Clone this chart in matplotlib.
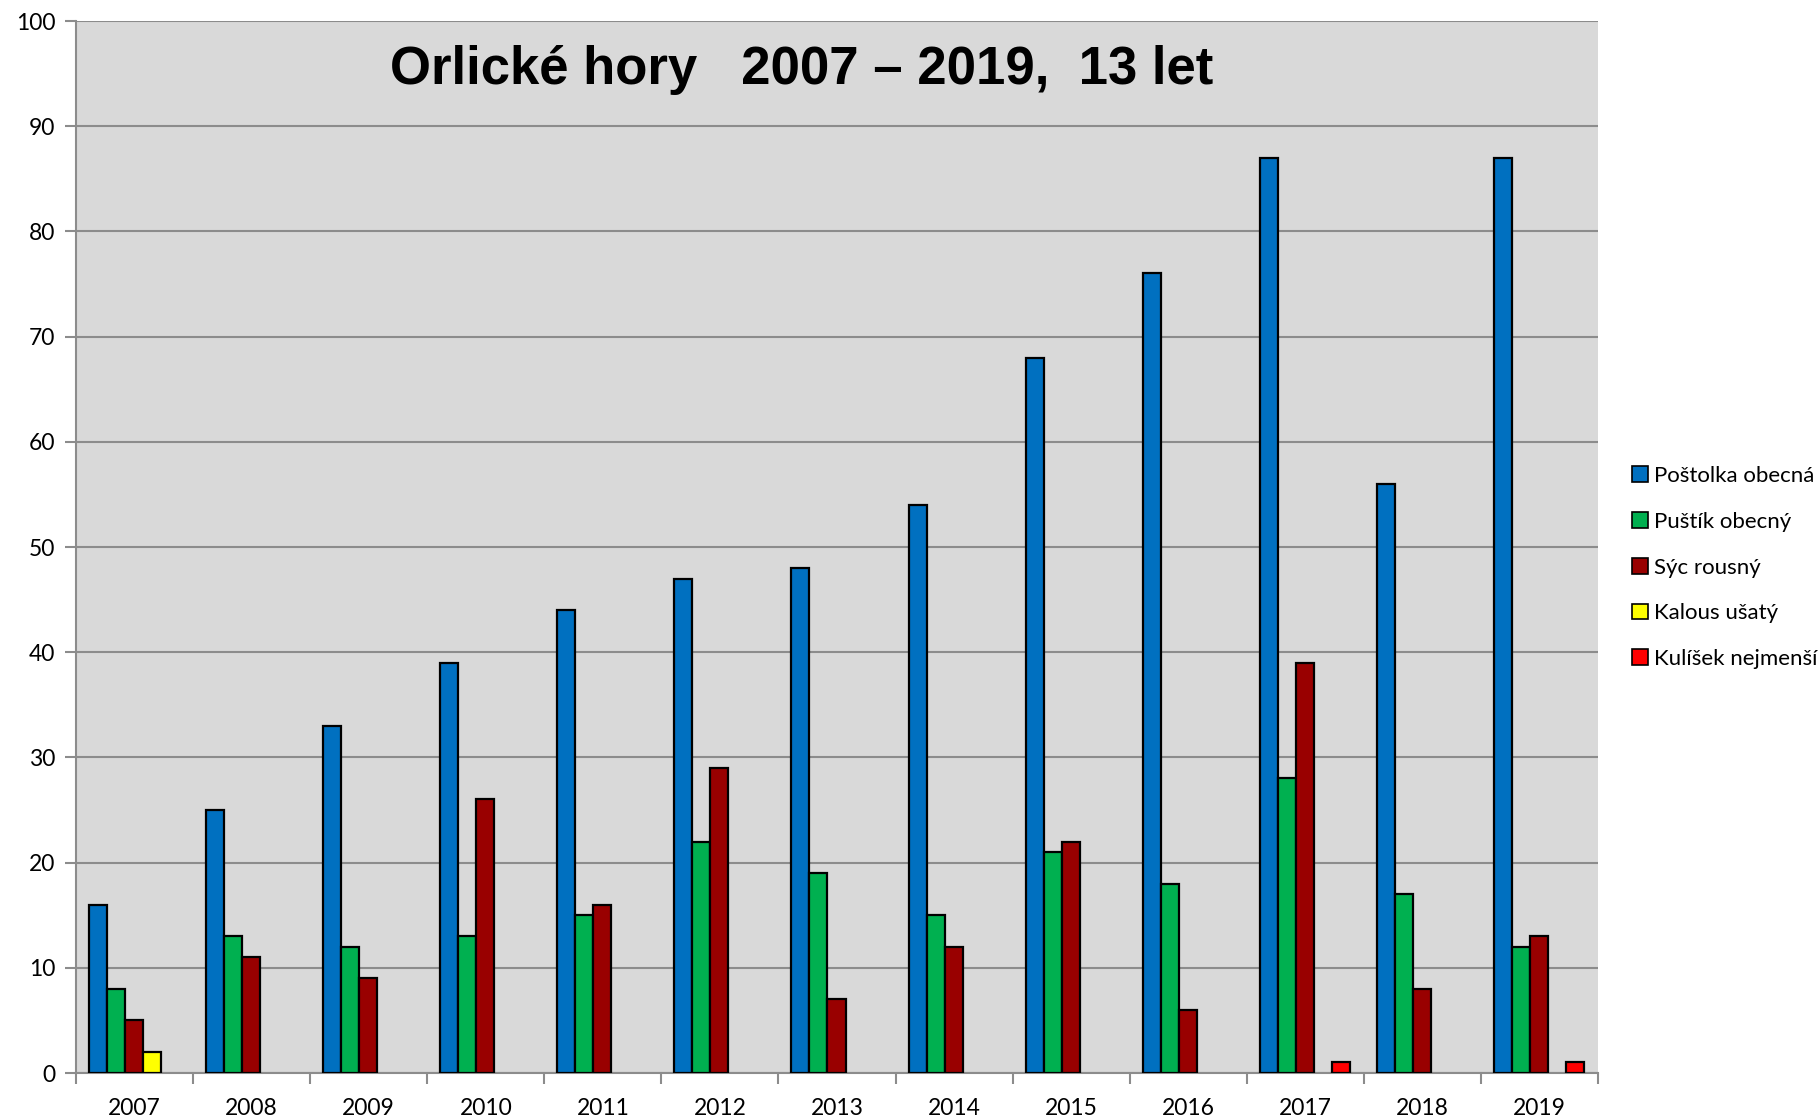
import numpy as np
import matplotlib.pyplot as plt
from matplotlib.patches import Rectangle

years = [str(y) for y in range(2007, 2020)]
species = ['Poštolka obecná', 'Puštík obecný', 'Sýc rousný', 'Kalous ušatý', 'Kulíšek nejmenší']
postolka = [16, 25, 33, 39, 44, 47, 48, 54, 68, 76, 87, 56, 87]
pustik = [8, 13, 12, 13, 15, 22, 19, 15, 21, 18, 28, 17, 12]
syc = [5, 11, 9, 26, 16, 29, 7, 12, 22, 6, 39, 8, 13]
kalous = [2, 0, 0, 0, 0, 0, 0, 0, 0, 0, 0, 0, 0]
kulisek = [0, 0, 0, 0, 0, 0, 0, 0, 0, 0, 1, 0, 1]

COLORS = ['#0070C0', '#00B050', '#990000', '#FFFF00', '#FF0000']
BG = '#D9D9D9'
GRID = '#8C8C8C'

plt.rcParams['font.family'] = ['Lato', 'DejaVu Sans']

fig = plt.figure(figsize=(18.2, 11.2), dpi=100)
ax = fig.add_axes([76 / 1820, 1 - 1073 / 1120, (1598 - 76) / 1820, (1073 - 21) / 1120])
ax.set_facecolor(BG)

series = [postolka, pustik, syc, kalous, kulisek]
x = np.arange(len(years))
w = 1 / 6.5
start = 13 / 117
for i, vals in enumerate(series):
    v = np.array(vals, dtype=float)
    v[v == 0] = np.nan
    ax.bar(x - 0.5 + start + i * w, v, width=w, align='edge', color=COLORS[i],
           edgecolor='black', linewidth=1.6, zorder=3)

ax.set_xlim(-0.5, len(years) - 0.5)
ax.set_ylim(0, 100)
ax.set_yticks(range(0, 101, 10))
ax.yaxis.grid(True, color=GRID, linewidth=1.5, zorder=1)
ax.set_xticks(x)
ax.set_xticklabels(years)
ax.set_xticks(np.arange(-0.5, len(years)), minor=True)
ax.tick_params(axis='x', which='major', length=0, pad=18, labelsize=16.5)
ax.tick_params(axis='x', which='minor', length=8, width=1.5, color=GRID)
ax.tick_params(axis='y', length=8, width=1.5, color=GRID, labelsize=16.5, pad=7)
for s in ['top', 'right']:
    ax.spines[s].set_visible(False)
for s in ['left', 'bottom']:
    ax.spines[s].set_color(GRID)
    ax.spines[s].set_linewidth(1.5)

ax.text(0.477, 0.953, 'Orlické hory   2007 – 2019,  13 let', transform=ax.transAxes,
        ha='center', va='center', fontsize=38, fontweight='bold',
        family=['Liberation Sans', 'DejaVu Sans'])

handles = [Rectangle((0, 0), 1, 1, facecolor=c, edgecolor='black', linewidth=1.2) for c in COLORS]
fig.legend(handles, species, loc='upper left', bbox_to_anchor=(1632 / 1820, 1 - 466 / 1120),
           frameon=False, fontsize=16, handlelength=0.72, handleheight=0.72,
           handletextpad=0.25, labelspacing=1.16, borderaxespad=0, borderpad=0)

fig.savefig('out.png', dpi=100)
